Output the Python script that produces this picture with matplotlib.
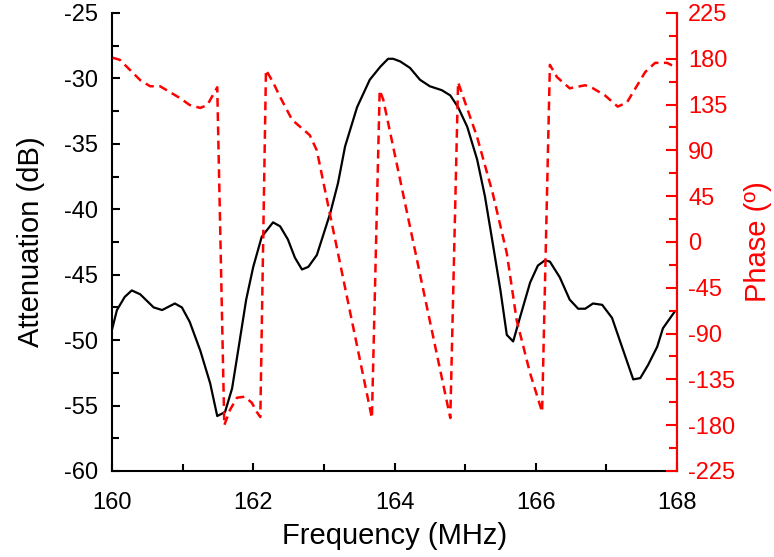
import matplotlib.pyplot as plt
import numpy as np

plt.rcParams['font.family'] = ['Liberation Sans', 'DejaVu Sans']
plt.rcParams['axes.unicode_minus'] = False

# attenuation trace (black, solid)
att_freq = [160.00, 160.07, 160.18, 160.28, 160.40, 160.59, 160.71, 160.89, 160.99, 161.10,
            161.25, 161.39, 161.49, 161.60, 161.70, 161.78, 161.90, 162.00, 162.12, 162.28,
            162.38, 162.49, 162.59, 162.69, 162.78, 162.90, 163.09, 163.20, 163.30, 163.47,
            163.65, 163.80, 163.91, 163.98, 164.08, 164.22, 164.36, 164.50, 164.67, 164.79,
            164.90, 165.03, 165.17, 165.28, 165.40, 165.50, 165.59, 165.68, 165.78, 165.92,
            166.03, 166.13, 166.20, 166.34, 166.48, 166.60, 166.70, 166.81, 166.94, 167.08,
            167.22, 167.38, 167.48, 167.59, 167.72, 167.80, 167.97]
att_db = [-49.2, -47.7, -46.7, -46.2, -46.5, -47.5, -47.7, -47.2, -47.5, -48.6,
          -50.8, -53.3, -55.8, -55.5, -53.7, -51.0, -46.9, -44.4, -42.1, -41.0,
          -41.3, -42.3, -43.7, -44.6, -44.4, -43.5, -40.3, -38.0, -35.2, -32.2,
          -30.1, -29.1, -28.5, -28.5, -28.7, -29.2, -30.1, -30.6, -30.9, -31.3,
          -32.2, -33.7, -36.2, -39.0, -42.9, -46.2, -49.6, -50.1, -48.2, -45.6,
          -44.3, -43.9, -44.0, -45.2, -46.9, -47.6, -47.6, -47.2, -47.3, -48.3,
          -50.5, -53.0, -52.9, -51.9, -50.5, -49.1, -47.8]

# phase trace (red, dashed)
ph_freq = [160.01, 160.11, 160.40, 160.54, 160.68, 160.96, 161.10, 161.25, 161.35, 161.49,
           161.59, 161.67, 161.77, 161.88, 161.98, 162.05, 162.10, 162.18, 162.28, 162.38,
           162.55, 162.80, 162.90, 163.68, 163.79, 163.84, 164.79, 164.90, 165.17, 165.39,
           165.59, 165.73, 165.92, 166.09, 166.20, 166.30, 166.48, 166.70, 166.81, 166.98,
           167.16, 167.29, 167.55, 167.69, 167.86, 167.97]
ph_deg = [181, 179, 159, 153, 153, 141.5, 134.6, 131.7, 134.6, 152,
          -180, -165, -153, -152, -158, -167, -172, 169, 157, 142.5,
          120, 105, 90, -173, 149, 140, -173, 157, 103, 48,
          -11, -77, -129, -167, 174, 162, 151, 154, 151, 144,
          133, 137, 167, 176, 176, 172]

red = '#ff0000'

fig = plt.figure(figsize=(7.74, 5.57), dpi=100)
ax = fig.add_axes([0.1447, 0.1544, 0.73, 0.8223])
ax2 = ax.twinx()

ax.plot(att_freq, att_db, color='black', lw=1.6, zorder=3)
ax2.plot(ph_freq, ph_deg, color=red, lw=1.8, linestyle=(0, (3.5, 2.2)))

ax.set_xlim(160, 168)
ax.set_ylim(-60, -25)
ax2.set_ylim(-225, 225)

ax.set_xticks(np.arange(160, 169, 2))
ax.set_xticks(np.arange(160, 169, 1), minor=True)
ax.set_yticks(np.arange(-60, -24, 5))
ax.set_yticks(np.arange(-60, -24, 2.5), minor=True)
ax2.set_yticks(np.arange(-225, 226, 45))
ax2.set_yticks(np.arange(-225, 226, 22.5), minor=True)

for a in (ax, ax2):
    a.spines['top'].set_visible(False)
    for s in a.spines.values():
        s.set_linewidth(1.5)

ax.tick_params(which='both', direction='in', width=1.5, labelsize=17)
ax.tick_params(which='major', length=6)
ax.tick_params(which='minor', length=5)
ax.tick_params(axis='x', pad=15)
ax.tick_params(axis='y', pad=10)
ax2.spines['right'].set_color(red)
ax2.spines['left'].set_visible(False)
ax2.spines['bottom'].set_visible(False)
ax2.tick_params(which='both', direction='in', width=1.5, colors=red, labelsize=17, pad=8)
ax2.tick_params(which='major', length=8)
ax2.tick_params(which='minor', length=6)

ax.set_xlabel('Frequency (MHz)', fontsize=21, labelpad=6)
ax.set_ylabel('Attenuation (dB)', fontsize=21, labelpad=14)
ax2.set_ylabel('Phase (º)', fontsize=21, color=red, labelpad=6)

fig.savefig('out.png', dpi=100)
